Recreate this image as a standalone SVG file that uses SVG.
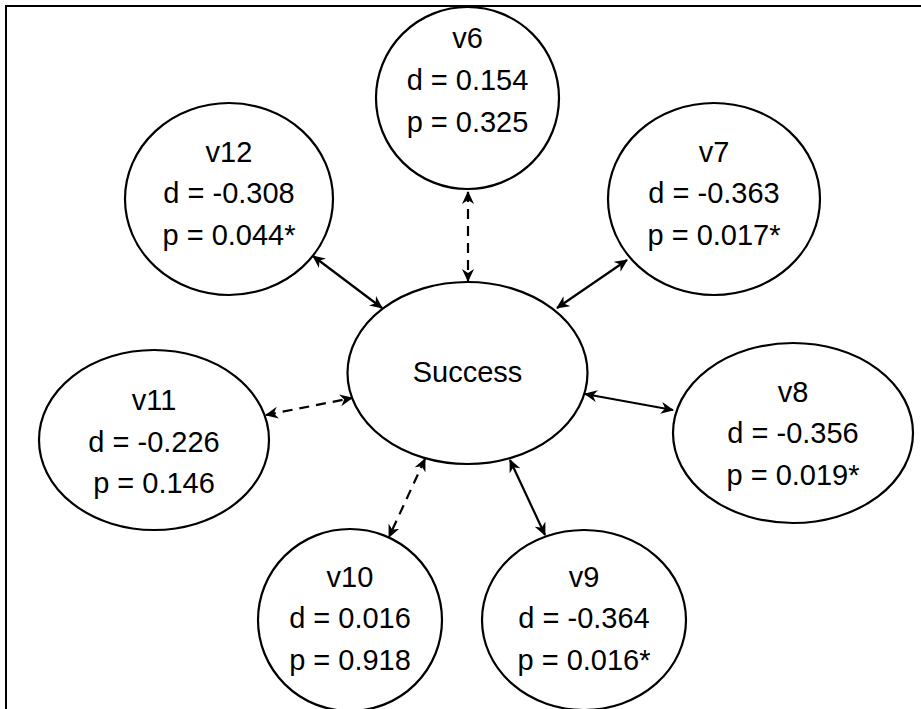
<svg xmlns="http://www.w3.org/2000/svg" width="921" height="709" viewBox="0 0 921 709">
  <defs>
    <style>
      .node ellipse { fill: #ffffff; stroke: #000000; stroke-width: 2.2; }
      .node text { font-family: "Liberation Sans", Arial, sans-serif; font-size: 29px; fill: #000000; text-anchor: middle; }
      .edge { fill: none; stroke: #000000; stroke-width: 2.2; marker-start: url(#arrow); marker-end: url(#arrow); }
      .dashed { stroke-dasharray: 10 7; }
    </style>
    <marker id="arrow" viewBox="0 0 13 12" refX="12" refY="6" markerWidth="13" markerHeight="12" markerUnits="userSpaceOnUse" orient="auto-start-reverse">
      <path d="M0,0 L13,6 L0,12 L4,6 Z" fill="#000000"/>
    </marker>
  </defs>
  <rect width="921" height="709" fill="#ffffff"/>
  <!-- frame -->
  <path d="M6,709 V6 H921" fill="none" stroke="#000000" stroke-width="2"/>

  <!-- connectors -->
  <g id="connectors">
    <line class="edge dashed" x1="468" y1="192" x2="468" y2="281"/>
    <line class="edge" x1="313" y1="256" x2="382" y2="308"/>
    <line class="edge" x1="627" y1="260" x2="557" y2="308"/>
    <line class="edge dashed" x1="266" y1="415" x2="352" y2="398"/>
    <line class="edge" x1="585" y1="394" x2="673" y2="410"/>
    <line class="edge dashed" x1="425" y1="459" x2="389" y2="537"/>
    <line class="edge" x1="510" y1="460" x2="545" y2="535"/>
  </g>

  <g id="success" class="node">
    <ellipse cx="467.5" cy="373" rx="120" ry="91"/>
    <text x="467.5" y="382">Success</text>
  </g>
  <g id="v6" class="node">
    <ellipse cx="467.5" cy="98" rx="91.5" ry="91"/>
    <text x="467.5" y="48">v6</text>
    <text x="467.5" y="90">d = 0.154</text>
    <text x="467.5" y="132">p = 0.325</text>
  </g>
  <g id="v7" class="node">
    <ellipse cx="714" cy="199" rx="106" ry="96"/>
    <text x="714" y="162">v7</text>
    <text x="714" y="203">d = -0.363</text>
    <text x="714" y="245">p = 0.017*</text>
  </g>
  <g id="v8" class="node">
    <ellipse cx="793" cy="433" rx="120" ry="90"/>
    <text x="793" y="402">v8</text>
    <text x="793" y="443">d = -0.356</text>
    <text x="793" y="485">p = 0.019*</text>
  </g>
  <g id="v9" class="node">
    <ellipse cx="584" cy="620" rx="102" ry="90"/>
    <text x="584" y="587">v9</text>
    <text x="584" y="628">d = -0.364</text>
    <text x="584" y="670">p = 0.016*</text>
  </g>
  <g id="v10" class="node">
    <ellipse cx="350" cy="620" rx="92" ry="91"/>
    <text x="350" y="587">v10</text>
    <text x="350" y="628">d = 0.016</text>
    <text x="350" y="670">p = 0.918</text>
  </g>
  <g id="v11" class="node">
    <ellipse cx="154" cy="440" rx="115" ry="90"/>
    <text x="154" y="410">v11</text>
    <text x="154" y="452">d = -0.226</text>
    <text x="154" y="493">p = 0.146</text>
  </g>
  <g id="v12" class="node">
    <ellipse cx="229" cy="199" rx="104" ry="96"/>
    <text x="229" y="162">v12</text>
    <text x="229" y="203">d = -0.308</text>
    <text x="229" y="245">p = 0.044*</text>
  </g>
</svg>
